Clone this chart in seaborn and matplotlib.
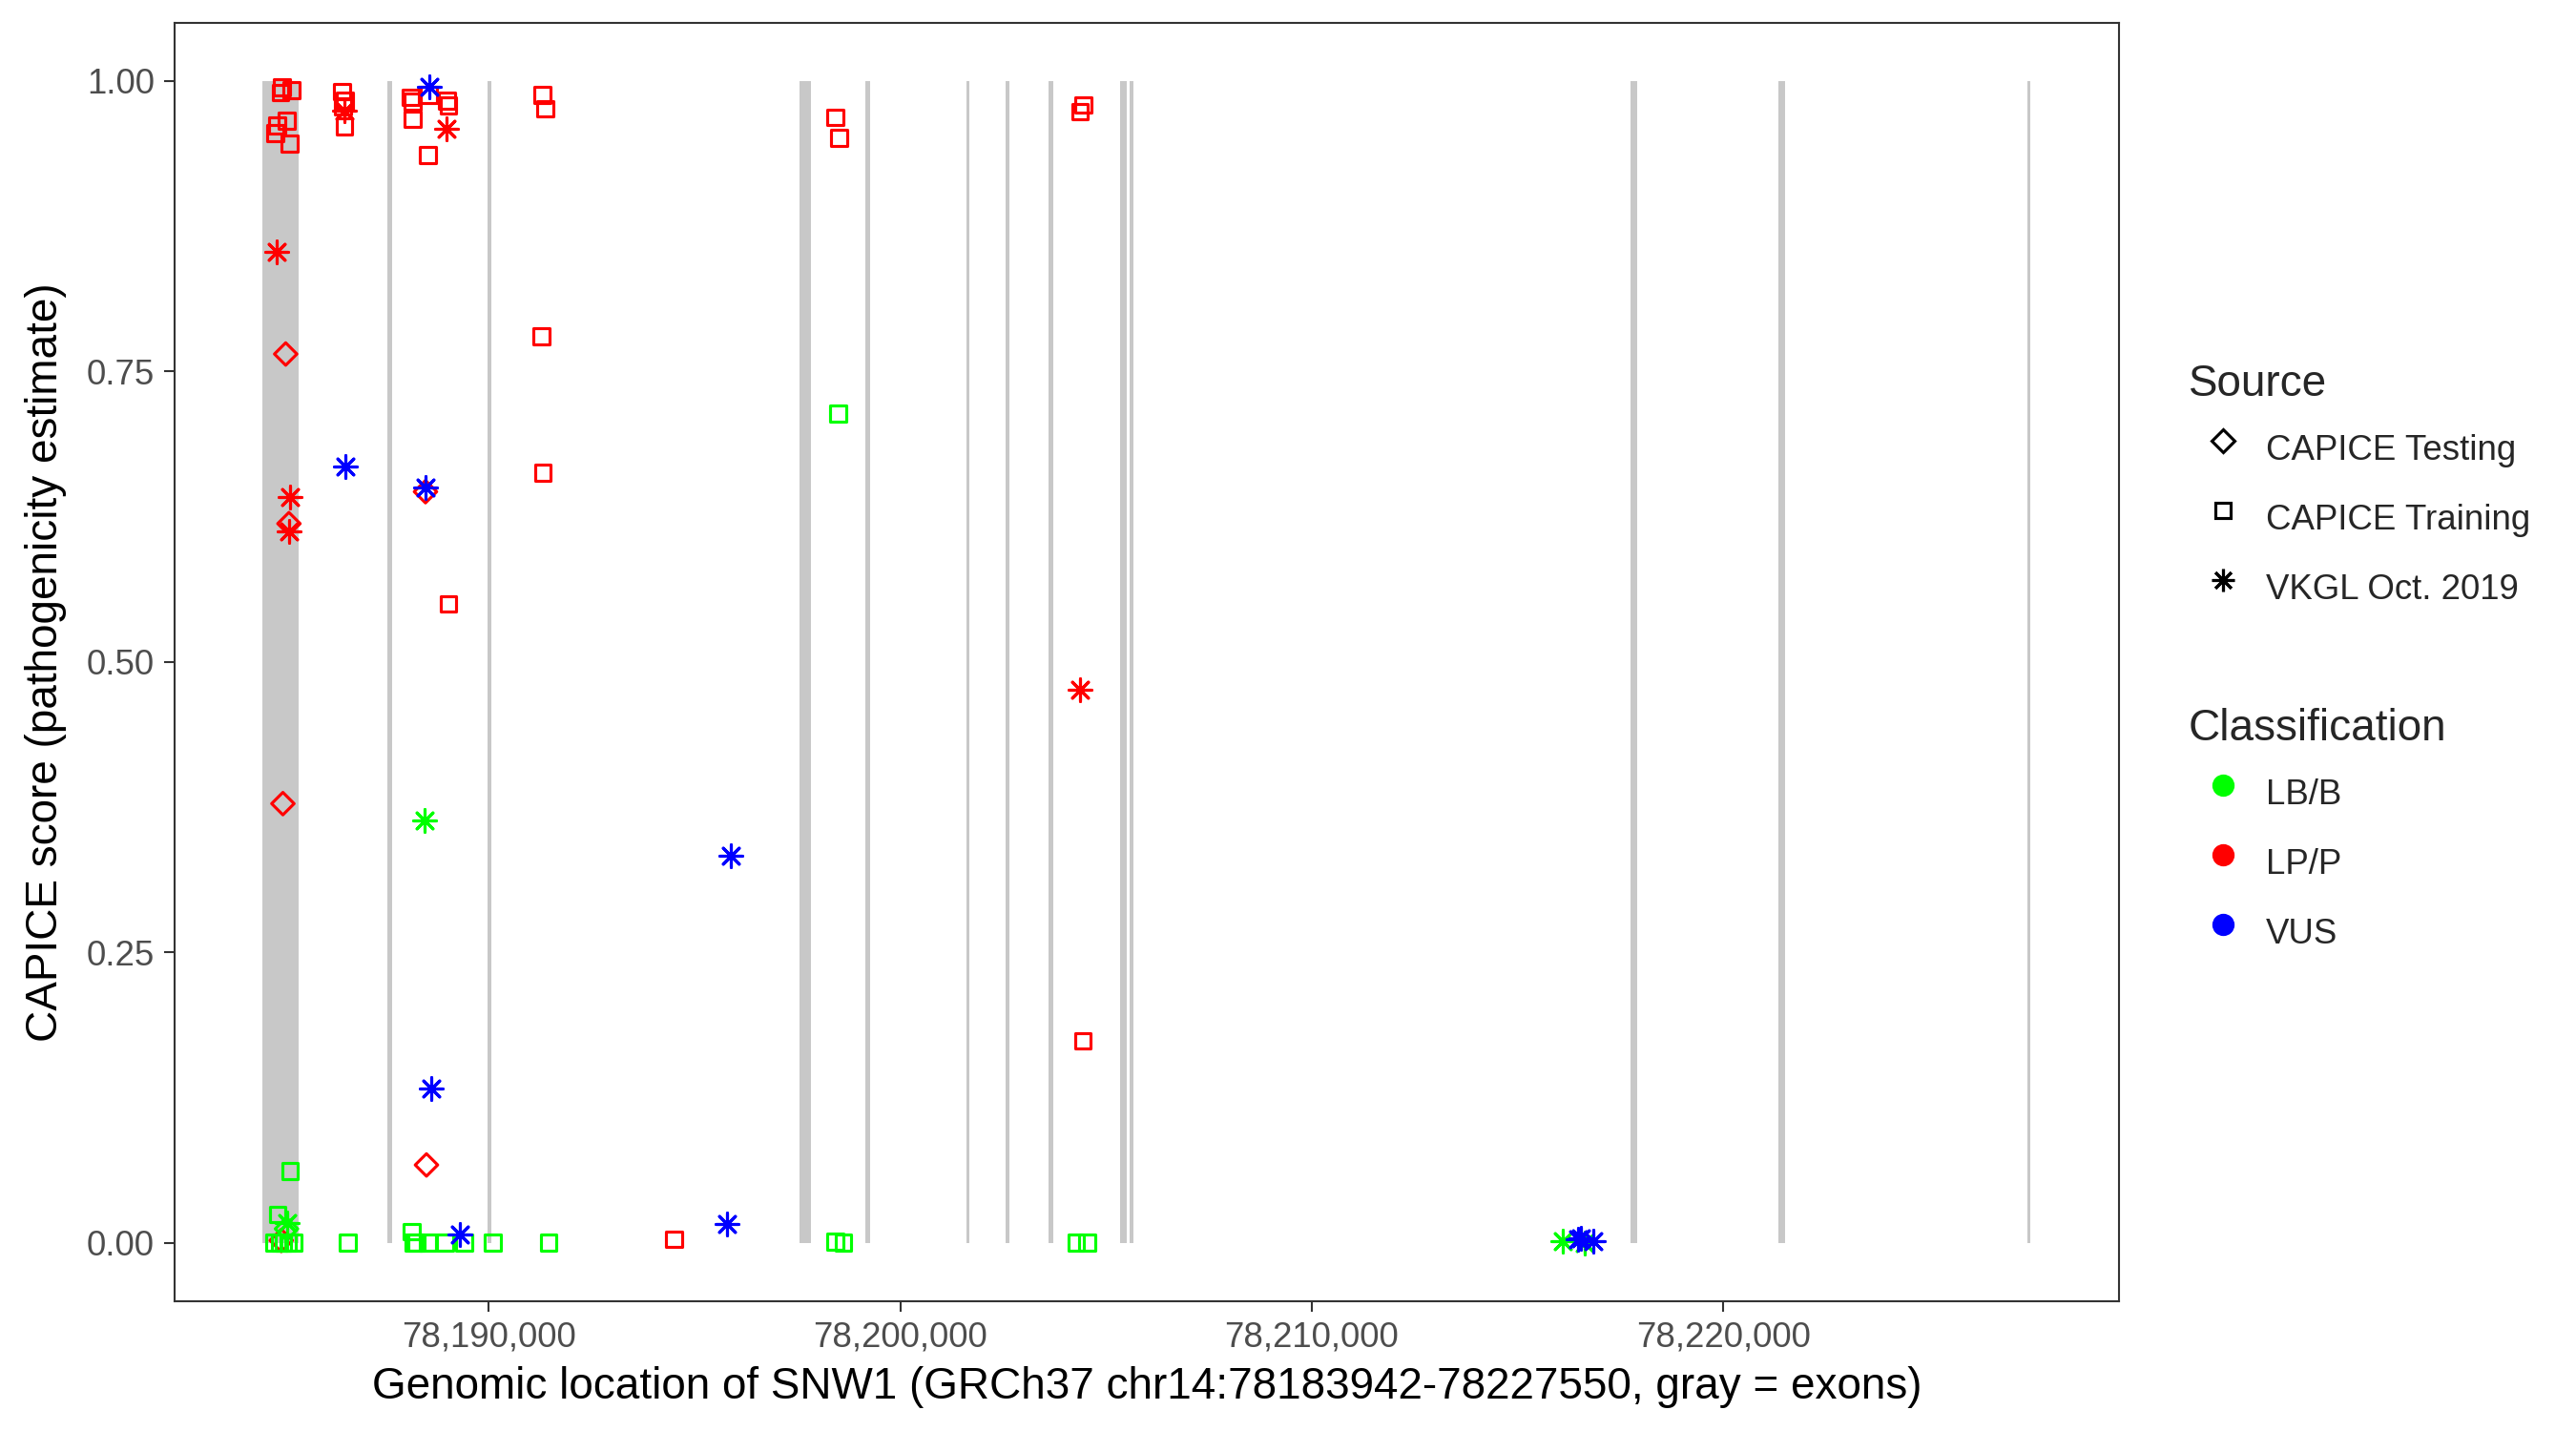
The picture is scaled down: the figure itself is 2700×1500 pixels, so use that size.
import numpy as np
import pandas as pd
import matplotlib
matplotlib.use("Agg")
import matplotlib.pyplot as plt
from matplotlib.lines import Line2D
from matplotlib.ticker import FuncFormatter
import seaborn as sns

# exon layout of SNW1 (GRCh37 chr14), drawn as gray bands
exon_start = [78184501, 78187535, 78189969, 78197558, 78199157, 78201599, 78202568,
              78203591, 78205332, 78205571, 78217743, 78221339, 78227379]
exon_end = [78185372, 78187644, 78190062, 78197834, 78199273, 78201671, 78202640,
            78203713, 78205499, 78205659, 78217909, 78221502, 78227468]

# CAPICE Testing (diamonds)
testing_pos = [78185064, 78188461, 78185143, 78184996, 78188485, 78184956, 78185084]
testing_score = [0.765, 0.6465, 0.619, 0.378, 0.067, 0.002, 0.012]
testing_class = ["LP/P", "LP/P", "LP/P", "LP/P", "LP/P", "LP/P", "LB/B"]

# CAPICE Training (squares)
training_pos = [78184965, 78185198, 78184936, 78184849, 78185081, 78184809, 78185158,
                78186429, 78186508, 78186460, 78186491, 78188107, 78188154, 78188145,
                78188539, 78188979, 78189019, 78188516, 78191297, 78191376, 78191275,
                78191314, 78189019, 78194500, 78198420, 78198511, 78204455, 78204368,
                78204437,
                78185167, 78184871, 78184776, 78184917, 78185127, 78185244, 78185005,
                78186568, 78188131, 78188168, 78188247, 78188516, 78188943, 78189406,
                78190101, 78191453, 78198483, 78198420, 78198617, 78204277, 78204544]
training_score = [0.9945, 0.992, 0.990, 0.962, 0.966, 0.955, 0.946,
                  0.991, 0.983, 0.978, 0.961, 0.986, 0.982, 0.967,
                  0.988, 0.983, 0.979, 0.936, 0.988, 0.976, 0.780,
                  0.663, 0.550, 0.003, 0.9686, 0.951, 0.9795, 0.9736,
                  0.1738,
                  0.0615, 0.0244, 0.0, 0.0, 0.0, 0.0, 0.0,
                  0.0, 0.0095, 0.0, 0.0, 0.0, 0.0, 0.0,
                  0.0, 0.0, 0.714, 0.001, 0.0, 0.0, 0.0]
training_class = ["LP/P"] * 29 + ["LB/B"] * 21

# VKGL Oct. 2019 (asterisks)
vkgl_pos = [78184849, 78185174, 78185143, 78186485, 78188979, 78204368,
            78188555, 78186508, 78188454, 78188594, 78189290, 78195884, 78195795,
            78216461, 78216550, 78216835,
            78188445, 78185097, 78216106, 78216638]
vkgl_score = [0.853, 0.642, 0.612, 0.9746, 0.959, 0.476,
              0.995, 0.668, 0.650, 0.133, 0.0071, 0.3335, 0.0162,
              0.0027, 0.004, 0.0013,
              0.3637, 0.0174, 0.0013, 0.0]
vkgl_class = ["LP/P"] * 6 + ["VUS"] * 10 + ["LB/B"] * 4

source_names = ["CAPICE Testing", "CAPICE Training", "VKGL Oct. 2019"]
class_names = ["LB/B", "LP/P", "VUS"]
class_colors = {"LB/B": "#00FF00", "LP/P": "#FF0000", "VUS": "#0000FF"}
source_markers = {"CAPICE Testing": "D", "CAPICE Training": "s", "VKGL Oct. 2019": (8, 2, 0)}
source_sizes = {"CAPICE Testing": 16, "CAPICE Training": 16, "VKGL Oct. 2019": 32}

df = pd.concat([
    pd.DataFrame({"pos": testing_pos, "score": testing_score, "cls": testing_class,
                  "source": "CAPICE Testing"}),
    pd.DataFrame({"pos": training_pos, "score": training_score, "cls": training_class,
                  "source": "CAPICE Training"}),
    pd.DataFrame({"pos": vkgl_pos, "score": vkgl_score, "cls": vkgl_class,
                  "source": "VKGL Oct. 2019"}),
], ignore_index=True)

sns.set_theme(style="white")
plt.rcParams["font.family"] = ["Liberation Sans", "DejaVu Sans"]

fig = plt.figure(figsize=(9, 5), dpi=300)
ax = fig.add_axes([182.5 / 2700, 1 - 1363.6 / 1500, (2221 - 182.5) / 2700, (1363.6 - 24) / 1500])

# exons as gray bands from 0 to 1
ex_start = np.array(exon_start)
ex_width = np.array(exon_end) - ex_start
ax.bar(ex_start, np.ones(len(ex_start)), width=ex_width, bottom=0, align="edge",
       color="#C8C8C8", linewidth=0, zorder=1)

# points: red first, then green, then blue on top
for cls in ["LP/P", "LB/B", "VUS"]:
    for src in source_names:
        sub = df[(df["cls"] == cls) & (df["source"] == src)]
        if sub.empty:
            continue
        c = class_colors[cls]
        kw = dict(marker=source_markers[src], s=source_sizes[src], color=c,
                  linewidth=0.75, legend=False, zorder=3)
        if src != "VKGL Oct. 2019":
            # open diamonds / squares
            kw.update(facecolors="none", edgecolor=c)
        sns.scatterplot(data=sub, x="pos", y="score", ax=ax, **kw)

# ggplot-style 5% expansion around the exon span
x_lo, x_hi = min(exon_start), max(exon_end)
pad = 0.05 * (x_hi - x_lo)
ax.set_xlim(x_lo - pad, x_hi + pad)
ax.set_ylim(-0.05, 1.05)
ax.set_xticks([78190000, 78200000, 78210000, 78220000])
ax.set_yticks([0, 0.25, 0.5, 0.75, 1.0])
ax.xaxis.set_major_formatter(FuncFormatter(lambda v, p: f"{v:,.0f}"))
ax.yaxis.set_major_formatter(FuncFormatter(lambda v, p: f"{v:.2f}"))
ax.tick_params(axis="both", which="major", length=2.75, width=0.5, color="#333333",
               labelsize=8.8, labelcolor="#4D4D4D", pad=2.2, bottom=True, left=True)
for sp in ax.spines.values():
    sp.set_color("#333333")
    sp.set_linewidth(0.5)
ax.set_xlabel("Genomic location of SNW1 (GRCh37 chr14:78183942-78227550, gray = exons)",
              fontsize=11, color="black", labelpad=3)
ax.set_ylabel("CAPICE score (pathogenicity estimate)", fontsize=11, color="black", labelpad=5)

# legends
src_handles = [Line2D([], [], linestyle="none", marker=source_markers[s],
                      markersize=np.sqrt(source_sizes[s]),
                      markerfacecolor="none", markeredgecolor="black", color="black",
                      markeredgewidth=0.75) for s in source_names]
cls_handles = [Line2D([], [], linestyle="none", marker="o", markersize=4.6,
                      markerfacecolor=class_colors[c], markeredgecolor=class_colors[c])
               for c in class_names]

leg_kw = dict(frameon=False, fontsize=8.8, title_fontsize=11, handlelength=1.96,
              handleheight=1.96, handletextpad=0.25, labelspacing=0.47, borderpad=0,
              borderaxespad=0, alignment="left", loc="upper left")
leg1 = fig.legend(src_handles, source_names, title="Source",
                  bbox_to_anchor=(2294 / 2700, 1 - 381 / 1500), **leg_kw)
leg2 = fig.legend(cls_handles, class_names, title="Classification",
                  bbox_to_anchor=(2294 / 2700, 1 - 742 / 1500), **leg_kw)

fig.savefig("out.png", dpi=300)
